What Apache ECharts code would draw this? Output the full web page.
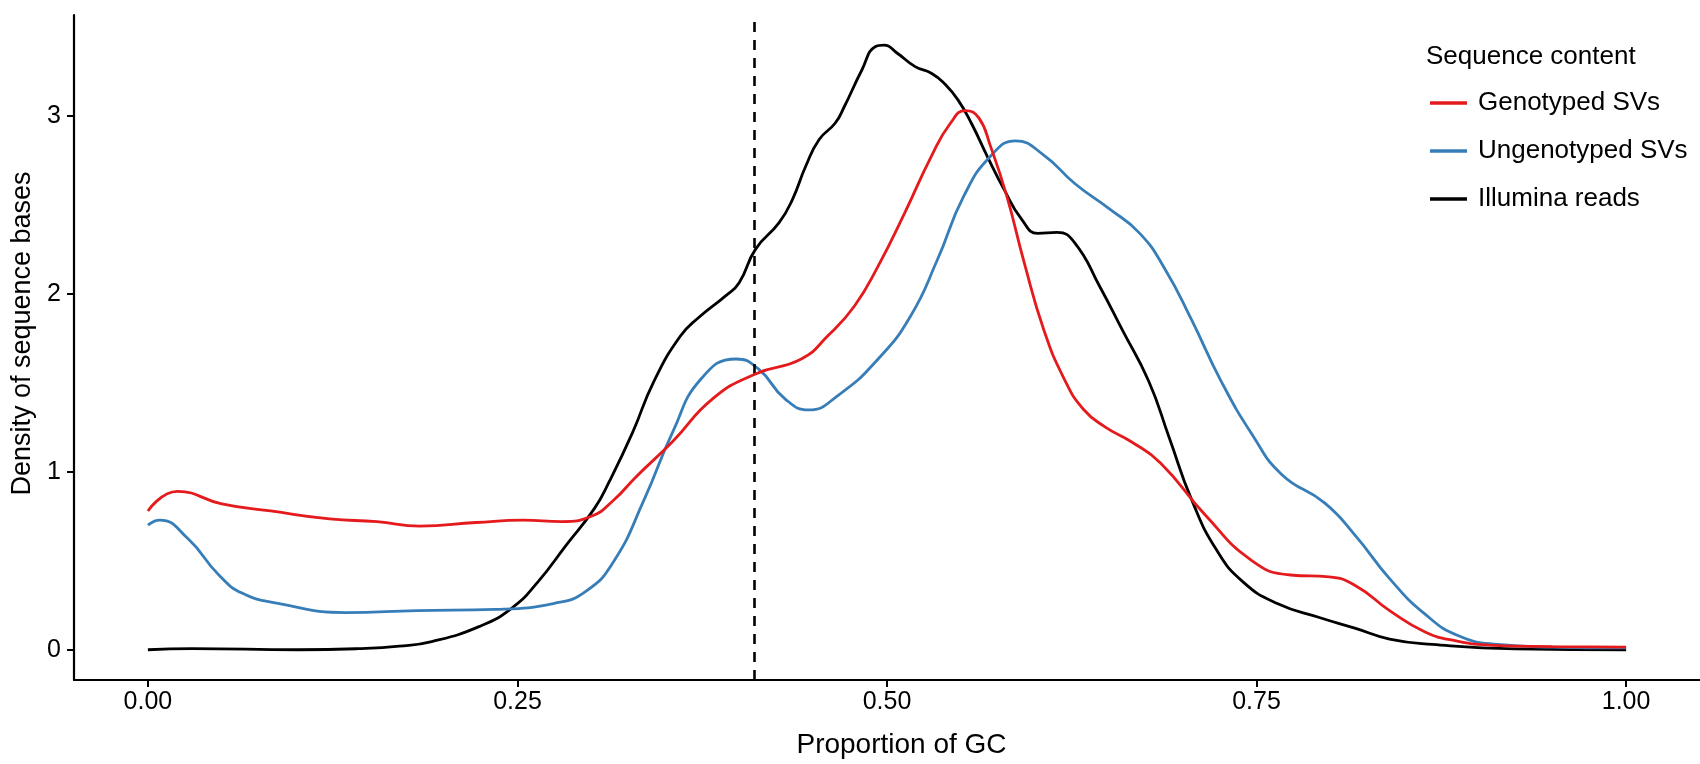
<!DOCTYPE html>
<html>
<head>
<meta charset="utf-8">
<script src="https://cdn.jsdelivr.net/npm/echarts@6/dist/echarts.min.js"></script>
<style>
  html, body { margin: 0; padding: 0; background: #fff; }
  #chart { width: 1700px; height: 764px; }
</style>
</head>
<body>
<div id="chart"></div>
<script>
// ---- Data ----
const seriesNames = ['Genotyped SVs', 'Ungenotyped SVs', 'Illumina reads'];
const seriesColors = ['#E41A1C', '#377EB8', '#000000'];

const genotyped = [
  [0.000,0.78],[0.020,0.89],[0.050,0.82],[0.083,0.78],[0.123,0.735],[0.155,0.72],
  [0.184,0.695],[0.222,0.715],[0.254,0.728],[0.280,0.72],[0.300,0.75],[0.315,0.84],
  [0.330,0.97],[0.355,1.17],[0.382,1.41],[0.411,1.55],[0.442,1.634],[0.460,1.764],
  [0.478,1.932],[0.494,2.156],[0.512,2.455],[0.530,2.773],[0.543,2.96],[0.553,3.03],
  [0.562,2.99],[0.570,2.83],[0.581,2.55],[0.593,2.17],[0.606,1.80],[0.620,1.52],
  [0.633,1.35],[0.648,1.25],[0.665,1.17],[0.685,1.05],[0.715,0.76],[0.747,0.50],
  [0.773,0.42],[0.799,0.41],[0.817,0.36],[0.840,0.22],[0.864,0.10],[0.885,0.05],
  [0.910,0.025],[0.950,0.018],[1.000,0.015]
];

const ungenotyped = [
  [0.000,0.70],[0.008,0.728],[0.027,0.625],[0.048,0.42],[0.064,0.317],[0.088,0.261],
  [0.134,0.209],[0.182,0.22],[0.235,0.227],[0.275,0.261],[0.296,0.327],[0.315,0.495],
  [0.336,0.849],[0.355,1.223],[0.374,1.52],[0.398,1.634],[0.413,1.578],[0.431,1.41],
  [0.447,1.348],[0.467,1.43],[0.494,1.634],[0.516,1.876],[0.534,2.19],[0.552,2.55],
  [0.570,2.773],[0.587,2.86],[0.606,2.78],[0.627,2.62],[0.650,2.48],[0.671,2.34],
  [0.688,2.14],[0.706,1.855],[0.726,1.51],[0.747,1.21],[0.767,0.985],[0.796,0.825],
  [0.817,0.64],[0.840,0.40],[0.864,0.20],[0.887,0.077],[0.913,0.03],[0.950,0.015],
  [1.000,0.01]
];

const illumina = [
  [0.000,0.0],[0.030,0.006],[0.102,0.0],[0.142,0.006],[0.170,0.02],[0.192,0.046],
  [0.224,0.13],[0.246,0.233],[0.264,0.383],[0.283,0.588],[0.302,0.793],[0.312,0.943],
  [0.328,1.223],[0.342,1.503],[0.360,1.76],[0.373,1.87],[0.391,1.99],[0.400,2.063],
  [0.411,2.25],[0.427,2.40],[0.436,2.53],[0.445,2.717],[0.454,2.866],[0.465,2.96],
  [0.471,3.05],[0.483,3.258],[0.492,3.389],[0.498,3.398],[0.507,3.352],[0.519,3.277],
  [0.530,3.24],[0.539,3.18],[0.548,3.09],[0.557,2.96],[0.568,2.77],[0.579,2.59],
  [0.591,2.42],[0.602,2.34],[0.615,2.345],[0.627,2.287],[0.644,2.04],[0.659,1.80],
  [0.677,1.51],[0.691,1.19],[0.706,0.845],[0.723,0.56],[0.741,0.38],[0.764,0.26],
  [0.793,0.18],[0.817,0.12],[0.840,0.06],[0.869,0.03],[0.925,0.005],[1.000,0.0]
];

const gcCutoff = 0.41;

const xTickValues = [0, 0.25, 0.5, 0.75, 1];
const xTickLabels = ['0.00', '0.25', '0.50', '0.75', '1.00'];
const yTickValues = [0, 1, 2, 3];
const yTickLabels = ['0', '1', '2', '3'];

const xTitle = 'Proportion of GC';
const yTitle = 'Density of sequence bases';
const legendTitle = 'Sequence content';

// ---- Chart ----
const FONT = '"Liberation Sans", Arial, Helvetica, sans-serif';
const chart = echarts.init(document.getElementById('chart'), null, { renderer: 'canvas' });

const seriesData = [genotyped, ungenotyped, illumina];

const series = seriesNames.map((name, i) => ({
  name: name,
  type: 'line',
  data: seriesData[i],
  smooth: 0.5,
  symbol: 'none',
  showSymbol: false,
  lineStyle: { color: seriesColors[i], width: 2.8 },
  itemStyle: { color: seriesColors[i] },
  z: 3 - i + 2
}));

series[2].markLine = {
  silent: true,
  symbol: 'none',
  label: { show: false },
  lineStyle: { color: '#000', width: 2.6, type: [10, 8] },
  data: [{ xAxis: gcCutoff }]
};

function labelFor(values, labels) {
  return function (v) {
    for (let k = 0; k < values.length; k++) {
      if (Math.abs(values[k] - v) < 1e-9) return labels[k];
    }
    return '';
  };
}

const option = {
  animation: false,
  backgroundColor: '#ffffff',
  textStyle: { fontFamily: FONT },
  title: {
    text: legendTitle,
    left: 1426,
    top: 44,
    padding: 0,
    textStyle: { fontFamily: FONT, fontSize: 26, fontWeight: 'normal', color: '#000' }
  },
  legend: {
    data: seriesNames,
    orient: 'vertical',
    left: 1430,
    top: 90,
    padding: 0,
    itemWidth: 37,
    itemHeight: 14,
    itemGap: 22,
    icon: 'path://M0,5.3 L37,5.3 L37,8.7 L0,8.7 Z',
    textStyle: { fontFamily: FONT, fontSize: 26, color: '#000', padding: [0, 0, 0, 6] }
  },
  grid: { left: 74, right: -5, top: 15, bottom: 82 },
  xAxis: {
    type: 'value',
    min: -0.05,
    max: 1.05,
    name: xTitle,
    nameLocation: 'middle',
    nameGap: 51,
    nameTextStyle: { fontFamily: FONT, fontSize: 28, color: '#000', padding: [0, 0, 0, 29] },
    axisLine: { show: true, onZero: false, lineStyle: { color: '#000', width: 2.2 } },
    axisTick: { show: true, length: 7, lineStyle: { color: '#000', width: 2 }, customValues: xTickValues },
    axisLabel: {
      show: true, fontFamily: FONT, fontSize: 25, color: '#000', margin: 10,
      customValues: xTickValues,
      formatter: labelFor(xTickValues, xTickLabels)
    },
    splitLine: { show: false }
  },
  yAxis: {
    type: 'value',
    min: -0.17,
    max: 3.567,
    name: yTitle,
    nameLocation: 'middle',
    nameRotate: 90,
    nameGap: 38,
    nameTextStyle: { fontFamily: FONT, fontSize: 27, color: '#000', padding: [0, 0, 0, 28] },
    axisLine: { show: true, onZero: false, lineStyle: { color: '#000', width: 2.2 } },
    axisTick: { show: true, length: 7, lineStyle: { color: '#000', width: 2 }, customValues: yTickValues },
    axisLabel: {
      show: true, fontFamily: FONT, fontSize: 25, color: '#000', margin: 13,
      customValues: yTickValues,
      formatter: labelFor(yTickValues, yTickLabels)
    },
    splitLine: { show: false }
  },
  series: series
};

chart.setOption(option);
</script>
</body>
</html>
